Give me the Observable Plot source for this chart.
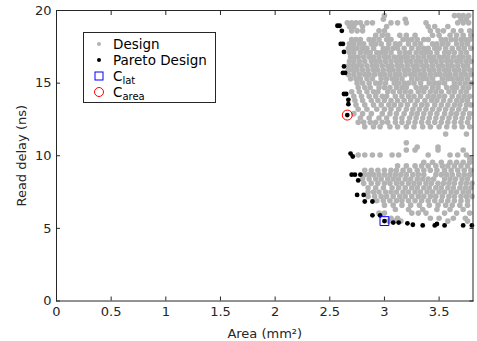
<!DOCTYPE html>
<html>
<head>
<meta charset="utf-8">
<script src="https://cdn.jsdelivr.net/npm/d3@7"></script>
<script src="https://cdn.jsdelivr.net/npm/@observablehq/plot@0.6"></script>
<style>
  html, body { margin: 0; padding: 0; background: #fff; }
  #wrap { position: relative; width: 477px; height: 341px; }
</style>
</head>
<body>
<div id="wrap"></div>
<script>
// ---- tick labels ----
const xTicks = [0, 0.5, 1, 1.5, 2, 2.5, 3, 3.5];
const yTicks = [0, 5, 10, 15, 20];

// ---- Design points (grey), rows of [read delay, [areas]] ----
const designTop = [
  [19.65, [3.00, 3.64, 3.68, 3.72, 3.77]],
  [19.4, [2.99, 3.19, 3.70, 3.75]],
  [19.15, [2.66, 2.70, 2.74, 2.78, 2.84, 2.89, 3.06, 3.12, 3.20, 3.38, 3.67, 3.72, 3.77]],
  [18.9, [2.68, 2.72, 2.80, 3.02, 3.40, 3.46, 3.58]],
  [18.6, [2.70, 2.75, 2.80, 2.95, 3.00, 3.42, 3.49, 3.54, 3.63, 3.70, 3.78]],
  [18.3, [2.92, 2.98, 3.03, 3.14, 3.20, 3.28, 3.44, 3.50, 3.60, 3.66, 3.72, 3.79]]
];
const designUpper = [
  [18.0, [2.70, 2.74, 2.78, 2.86, 2.90, 2.95, 3.02, 3.06, 3.17, 3.21, 3.25, 3.30, 3.36, 3.40, 3.52, 3.56, 3.61, 3.65, 3.70, 3.74, 3.78]],
  [17.7, [2.68, 2.72, 2.77, 2.81, 2.88, 2.92, 2.97, 3.04, 3.10, 3.14, 3.22, 3.28, 3.33, 3.44, 3.48, 3.53, 3.58, 3.66, 3.71, 3.76]],
  [17.4, [2.67, 2.71, 2.75, 2.80, 2.84, 2.90, 2.99, 3.03, 3.08, 3.12, 3.18, 3.25, 3.31, 3.36, 3.40, 3.46, 3.50, 3.56, 3.62, 3.68, 3.73, 3.79]],
  [17.1, [2.68, 2.72, 2.78, 2.83, 2.87, 2.93, 2.97, 3.01, 3.06, 3.14, 3.19, 3.23, 3.29, 3.34, 3.38, 3.42, 3.48, 3.55, 3.59, 3.64, 3.70, 3.75]],
  [16.8, [2.69, 2.73, 2.76, 2.81, 2.86, 2.90, 2.95, 3.00, 3.04, 3.09, 3.13, 3.17, 3.21, 3.26, 3.31, 3.36, 3.41, 3.45, 3.50, 3.54, 3.58, 3.63, 3.68, 3.72, 3.77]],
  [16.5, [2.68, 2.72, 2.77, 2.82, 2.88, 2.92, 2.96, 3.01, 3.06, 3.11, 3.15, 3.20, 3.24, 3.29, 3.33, 3.38, 3.43, 3.47, 3.52, 3.57, 3.61, 3.66, 3.70, 3.75, 3.79]],
  [16.2, [2.67, 2.71, 2.75, 2.79, 2.84, 2.89, 2.93, 2.98, 3.03, 3.07, 3.12, 3.16, 3.21, 3.26, 3.30, 3.35, 3.39, 3.44, 3.49, 3.53, 3.58, 3.62, 3.67, 3.72, 3.76]],
  [15.9, [2.67, 2.71, 2.75, 2.80, 2.85, 2.90, 2.94, 2.99, 3.04, 3.08, 3.13, 3.18, 3.22, 3.27, 3.31, 3.36, 3.41, 3.45, 3.50, 3.55, 3.59, 3.64, 3.68, 3.73, 3.78]],
  [15.6, [2.67, 2.72, 2.77, 2.82, 2.86, 2.91, 2.96, 3.00, 3.05, 3.10, 3.14, 3.19, 3.24, 3.28, 3.33, 3.37, 3.42, 3.47, 3.51, 3.56, 3.60, 3.65, 3.70, 3.74, 3.79]],
  [15.3, [2.69, 2.74, 2.78, 2.84, 2.89, 2.97, 3.02, 3.07, 3.11, 3.16, 3.25, 3.30, 3.35, 3.39, 3.44, 3.53, 3.58, 3.62, 3.67, 3.71, 3.76]],
  [15.0, [2.75, 2.80, 2.86, 2.92, 2.96, 3.01, 3.09, 3.13, 3.18, 3.22, 3.27, 3.33, 3.41, 3.46, 3.50, 3.55, 3.64, 3.69, 3.74, 3.79]],
  [14.7, [2.76, 2.82, 2.87, 2.95, 3.00, 3.05, 3.11, 3.16, 3.20, 3.29, 3.34, 3.38, 3.44, 3.49, 3.57, 3.62, 3.66, 3.72, 3.77]],
  [14.4, [2.70, 2.77, 2.84, 2.90, 2.94, 3.03, 3.08, 3.14, 3.19, 3.24, 3.31, 3.36, 3.42, 3.47, 3.52, 3.59, 3.64, 3.70, 3.75]],
  [14.1, [2.72, 2.79, 2.86, 2.92, 2.98, 3.02, 3.10, 3.16, 3.22, 3.27, 3.33, 3.40, 3.45, 3.50, 3.55, 3.62, 3.68, 3.73, 3.78]],
  [13.8, [2.73, 2.80, 2.88, 2.94, 3.00, 3.06, 3.12, 3.18, 3.24, 3.30, 3.37, 3.43, 3.48, 3.54, 3.60, 3.66, 3.71, 3.76]],
  [13.5, [2.74, 2.82, 2.90, 2.97, 3.04, 3.09, 3.15, 3.21, 3.28, 3.34, 3.39, 3.46, 3.52, 3.58, 3.64, 3.69, 3.75, 3.79]],
  [13.2, [2.76, 2.84, 2.93, 3.00, 3.06, 3.13, 3.20, 3.26, 3.32, 3.38, 3.44, 3.50, 3.56, 3.62, 3.68, 3.74]],
  [12.9, [2.72, 2.80, 2.88, 2.98, 3.05, 3.11, 3.18, 3.25, 3.30, 3.36, 3.42, 3.48, 3.55, 3.61, 3.66, 3.72, 3.78]],
  [12.6, [2.78, 2.86, 2.95, 3.02, 3.10, 3.16, 3.23, 3.29, 3.35, 3.41, 3.47, 3.53, 3.59, 3.65, 3.71, 3.77]],
  [12.3, [2.76, 2.81, 2.87, 2.92, 2.98, 3.03, 3.10, 3.16, 3.22, 3.28, 3.34, 3.40, 3.46, 3.52, 3.58, 3.64, 3.70, 3.76]],
  [12.0, [2.82, 2.90, 2.96, 3.05, 3.12, 3.20, 3.27, 3.35, 3.42, 3.50, 3.57, 3.64, 3.71, 3.78]]
];
const designMid = [
  [11.5, [3.56, 3.75]],
  [10.9, [3.20]],
  [10.6, [3.30, 3.49]],
  [10.4, [3.20, 3.28, 3.49, 3.72]],
  [10.05, [2.76, 2.82, 2.89, 2.96, 3.07, 3.13, 3.40, 3.60, 3.67, 3.75]],
  [9.8, [3.78]]
];
const designLower = [
  [9.55, [3.36, 3.44, 3.52, 3.60, 3.66, 3.72, 3.78]],
  [9.3, [3.12, 3.20, 3.28, 3.34, 3.40, 3.47, 3.53, 3.58, 3.64, 3.70, 3.76]],
  [9.0, [2.82, 2.88, 2.94, 3.00, 3.06, 3.11, 3.17, 3.23, 3.30, 3.36, 3.42, 3.48, 3.55, 3.61, 3.67, 3.73, 3.79]],
  [8.7, [2.82, 2.86, 2.90, 2.95, 3.00, 3.05, 3.10, 3.15, 3.20, 3.26, 3.31, 3.36, 3.47, 3.52, 3.57, 3.62, 3.68, 3.73, 3.78]],
  [8.4, [2.80, 2.86, 2.92, 2.97, 3.03, 3.08, 3.13, 3.19, 3.24, 3.30, 3.35, 3.40, 3.45, 3.55, 3.60, 3.65, 3.71, 3.76]],
  [8.1, [2.81, 2.88, 2.94, 3.00, 3.05, 3.11, 3.16, 3.22, 3.27, 3.32, 3.38, 3.43, 3.49, 3.54, 3.59, 3.64, 3.70, 3.75, 3.80]],
  [7.8, [2.85, 2.92, 2.99, 3.07, 3.13, 3.19, 3.25, 3.30, 3.36, 3.41, 3.47, 3.52, 3.58, 3.63, 3.69, 3.74, 3.79]],
  [7.5, [2.85, 2.90, 2.95, 3.01, 3.06, 3.11, 3.17, 3.22, 3.28, 3.33, 3.39, 3.44, 3.50, 3.55, 3.61, 3.66, 3.72, 3.77]],
  [7.2, [2.85, 2.91, 2.97, 3.02, 3.08, 3.14, 3.19, 3.25, 3.31, 3.36, 3.42, 3.47, 3.53, 3.59, 3.64, 3.70, 3.75, 3.80]],
  [6.9, [2.93, 2.99, 3.05, 3.11, 3.16, 3.22, 3.28, 3.34, 3.40, 3.46, 3.52, 3.58, 3.64, 3.70, 3.76]],
  [6.6, [3.00, 3.08, 3.16, 3.24, 3.32, 3.41, 3.49, 3.56, 3.62, 3.69, 3.76]],
  [6.3, [3.10, 3.22, 3.35, 3.48, 3.60, 3.72]],
  [6.05, [2.95, 3.00, 3.25, 3.31, 3.38, 3.55, 3.66, 3.78]],
  [5.7, [3.06, 3.12, 3.42, 3.50, 3.63, 3.74]],
  [5.5, [3.04, 3.09, 3.15, 3.58, 3.76]]
];

// ---- Pareto designs (black) ----
const paretoArea  = [2.57, 2.59, 2.61, 2.60, 2.62, 2.63, 2.63, 2.62, 2.64, 2.63, 2.65, 2.67, 2.67, 2.66, 2.69, 2.71, 2.70, 2.73, 2.78, 2.76, 2.75, 2.81, 2.82, 2.89, 2.89, 2.96, 3.00, 3.08, 3.13, 3.21, 3.26, 3.35, 3.46, 3.48, 3.55, 3.72, 3.80];
const paretoDelay = [18.95, 18.95, 18.6, 17.7, 17.7, 17.15, 16.15, 15.7, 15.7, 14.25, 14.25, 13.85, 13.55, 12.8, 10.15, 9.95, 8.7, 8.7, 8.7, 8.3, 7.3, 7.3, 6.85, 6.85, 5.9, 5.9, 5.5, 5.4, 5.4, 5.35, 5.25, 5.2, 5.2, 5.3, 5.2, 5.2, 5.2];

// ---- highlighted configurations ----
const cLat = {area: 3.00, delay: 5.5};
const cArea = {area: 2.66, delay: 12.8};

const toPts = rows => rows.flatMap(([y, xs]) => xs.map(x => ({area: x, delay: y})));
const designs = [...toPts(designTop), ...toPts(designUpper), ...toPts(designMid), ...toPts(designLower)];
const pareto = paretoArea.map((a, i) => ({area: a, delay: paretoDelay[i]}));

const axisColor = "#262626";
const chart = Plot.plot({
  width: 477,
  height: 341,
  marginLeft: 56,
  marginRight: 4.5,
  marginTop: 10,
  marginBottom: 40.5,
  style: {fontFamily: "'DejaVu Sans', sans-serif", fontSize: "13px", color: axisColor, background: "#fff"},
  x: {domain: [0, 3.81]},
  y: {domain: [0, 20]},
  marks: [
    Plot.dot(designs, {x: "area", y: "delay", r: 2.8, fill: "#b3b3b3", stroke: "none"}),
    Plot.dot(pareto, {x: "area", y: "delay", r: 2.4, fill: "#000", stroke: "none"}),
    Plot.dot([cLat], {x: "area", y: "delay", symbol: "square", r: 5, stroke: "#0000ff", strokeWidth: 1, fill: "none"}),
    Plot.dot([cArea], {x: "area", y: "delay", symbol: "circle", r: 5, stroke: "#ff0000", strokeWidth: 1, fill: "none"}),
    Plot.frame({stroke: axisColor, strokeWidth: 1}),
    Plot.axisX(xTicks, {anchor: "bottom", tickSize: -4, tickPadding: 10, tickFormat: d => String(d), label: "Area (mm²)", labelAnchor: "center", labelArrow: "none", labelOffset: 37, fontSize: 13}),
    Plot.axisX(xTicks, {anchor: "top", tickSize: -4, tickFormat: () => "", label: null}),
    Plot.axisY(yTicks, {anchor: "left", tickSize: -4, tickPadding: 9, tickFormat: d => String(d), label: "Read delay (ns)", labelAnchor: "center", labelArrow: "none", labelOffset: 40, fontSize: 13}),
    Plot.axisY(yTicks, {anchor: "right", tickSize: -4, tickFormat: () => "", label: null})
  ]
});

const wrap = document.getElementById("wrap");
wrap.appendChild(chart);

// ---- legend (inside the axes, upper left) ----
const legendItems = ["Design", "Pareto Design", "C", "C"];
const legendSubs = ["", "", "lat", "area"];
const ns = "http://www.w3.org/2000/svg";
const leg = document.createElementNS(ns, "svg");
leg.setAttribute("width", 133);
leg.setAttribute("height", 71);
leg.style.position = "absolute";
leg.style.left = "83px";
leg.style.top = "32px";
leg.innerHTML = `
  <rect x="0.5" y="0.5" width="132" height="70" fill="#fff" stroke="${axisColor}" stroke-width="1"/>
  <circle cx="16" cy="12" r="2" fill="#b3b3b3"/>
  <circle cx="16" cy="28" r="2" fill="#000"/>
  <rect x="12" y="40" width="8" height="8" fill="none" stroke="#0000ff" stroke-width="1"/>
  <circle cx="16" cy="60" r="4.5" fill="none" stroke="#ff0000" stroke-width="1"/>
  <g font-family="'DejaVu Sans', sans-serif" font-size="13.5" fill="#000">
    ${legendItems.map((t, i) => `<text x="30" y="${12 + 16 * i}" dy="0.36em">${t}${legendSubs[i] ? `<tspan font-size="10" dy="3">${legendSubs[i]}</tspan>` : ""}</text>`).join("")}
  </g>`;
wrap.appendChild(leg);
</script>
</body>
</html>
